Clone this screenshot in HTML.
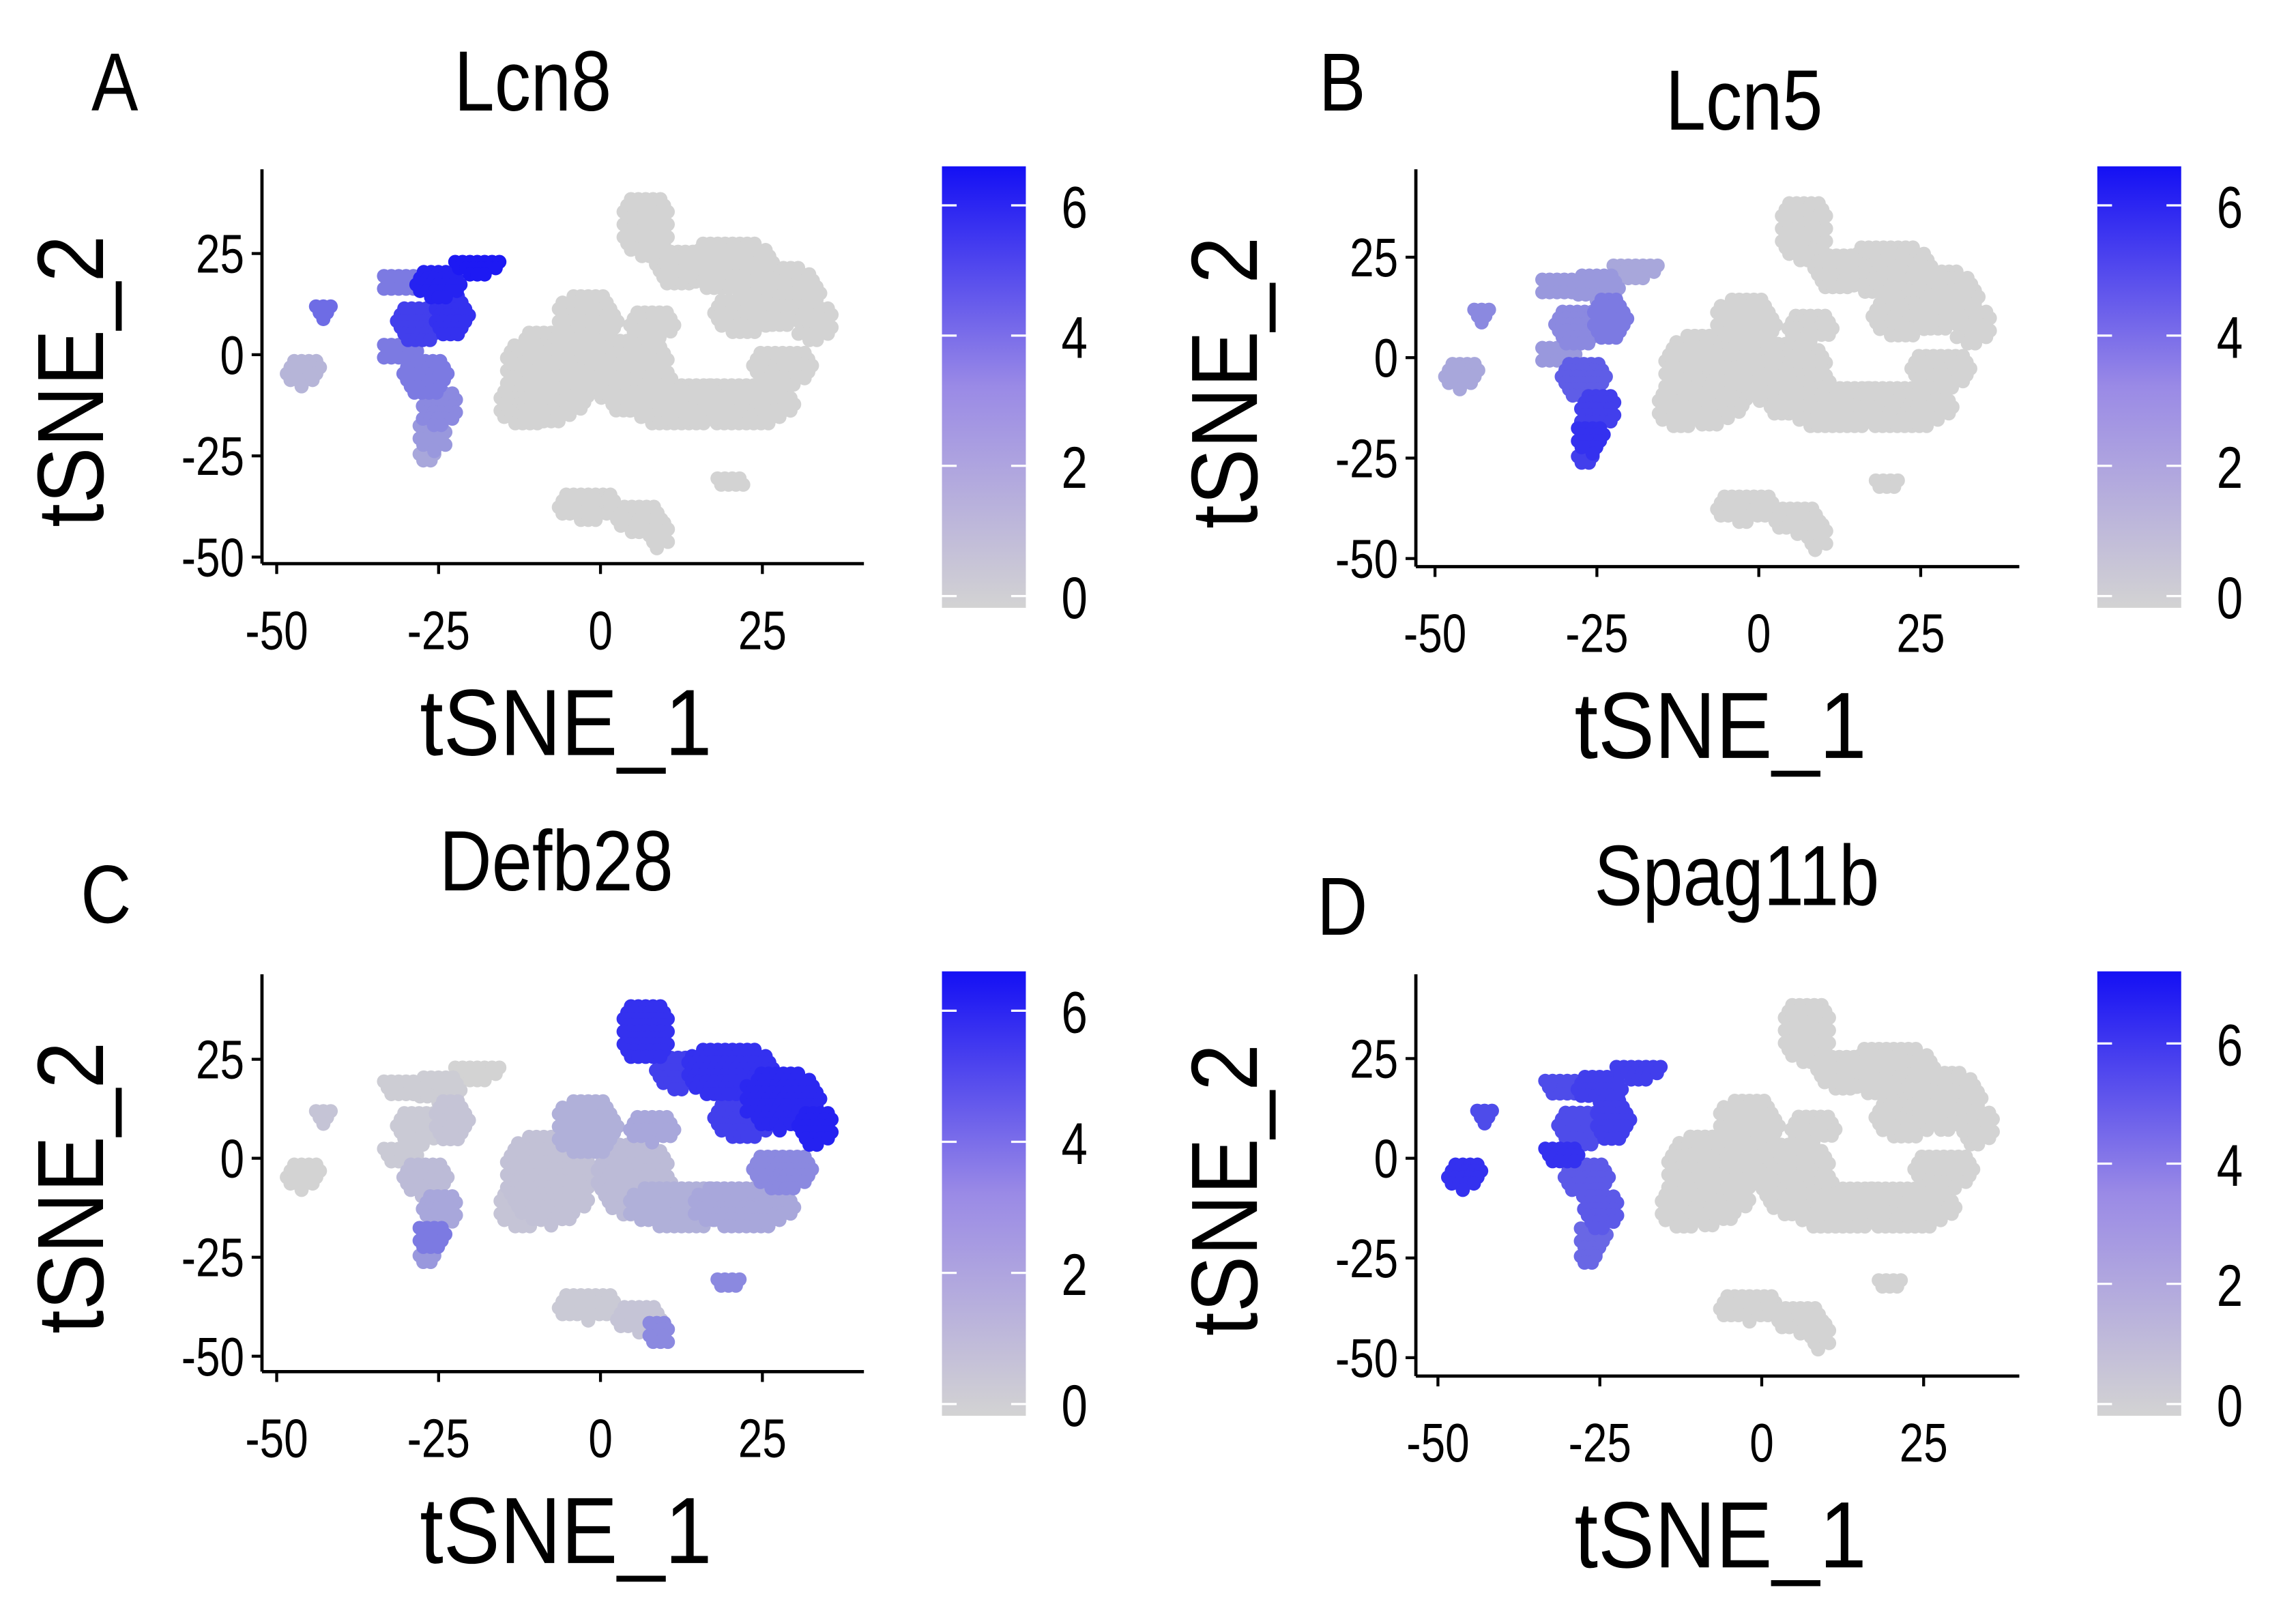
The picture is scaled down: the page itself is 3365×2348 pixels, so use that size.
<!DOCTYPE html>
<html><head><meta charset="utf-8">
<style>
html,body{margin:0;padding:0;background:#fff;}
svg{display:block;}
text{font-family:"Liberation Sans",sans-serif;fill:#000;}
</style></head>
<body>
<svg id="fig" xmlns="http://www.w3.org/2000/svg" width="3365" height="2348" viewBox="0 0 1560 1088.5">
<defs>
<linearGradient id="cbar" x1="0" y1="1" x2="0" y2="0">
<stop offset="0" stop-color="#d3d3d3"/><stop offset="0.5" stop-color="#9a8ae6"/><stop offset="1" stop-color="#1410f4"/>
</linearGradient>
</defs>
</svg>
<script>
// cluster ellipses in tSNE data units: centre x, centre y, radius x, radius y
const clusterCx = [-8,-2,5,12,22,28,8,-12, 7,12,20,28,33,22, -2,6,9,20, -31,-25,-19,-28,-23,-31,-27,-25,-26,-27, -46,-43];
const clusterCy = [-5,8,-5,-12,-12,-3,8,-12, 32,22,22,15,8,10, -37,-40,-44,-31, 18,18,22,8,10,1,-5,-13,-20,-25, -4,11];
const clusterRx = [7,5,6,8,8,5,4,4, 4,4,7,6,3,5, 5,4,2,2.5, 3,4,4,4,3,3,4,3,2.5,1.5, 3,1.5];
const clusterRy = [12,8,10,6,6,5,4,6, 8,5,7,8,5,5, 4,4,4,2, 3,4,2.5,5,6,3,5,5,4,2, 4,2.5];
// expression per cluster for each gene
const exprLcn8    = [0,0,0,0,0,0,0,0, 0,0,0,0,0,0, 0,0,0,0, 3,6,6.3,5,5.5,3,3,2.5,2,1.5, 1,3.5];
const exprLcn5    = [0,0,0,0,0,0,0,0, 0,0,0,0,0,0, 0,0,0,0, 2,2,1.5,2.5,3,2,4,5,5.5,5, 1.5,2.5];
const exprDefb28  = [0.6,1.2,0.8,1.2,1.5,2.5,1.5,0.5, 5.5,5,5.5,5.8,6,5, 0.3,0.5,2.5,2.5, 0.2,0.2,0,0.3,0.5,0.3,0.8,1.5,3,2, 0,0.5];
const exprSpag11b = [0,0,0,0,0,0,0,0, 0,0,0,0,0,0, 0,0,0,0, 5,5.5,5.5,5,5.5,6,4.5,4.5,4,4, 6,5];
const xTicks = [-50,-25,0,25];
const yTicks = [-50,-25,0,25];
const panels = [
 {id:'A',title:'Lcn8',expr:exprLcn8,x0:408,kx:4.4,y0:241,ky:2.75,ax:178,top:115,ay:383,right:587,cbx:640,cbTop:113,cbBot:413,cbLabels:[0,2,4,6],cbMax:6.6,lx:78,ly:55,tx:362,ty:55},
 {id:'B',title:'Lcn5',expr:exprLcn5,x0:1195,kx:4.4,y0:243,ky:2.73,ax:962,top:115,ay:385,right:1372,cbx:1425,cbTop:113,cbBot:413,cbLabels:[0,2,4,6],cbMax:6.6,lx:912,ly:55,tx:1185,ty:68},
 {id:'C',title:'Defb28',expr:exprDefb28,x0:408,kx:4.4,y0:787,ky:2.69,ax:178,top:662,ay:932,right:587,cbx:640,cbTop:660,cbBot:962,cbLabels:[0,2,4,6],cbMax:6.6,lx:72,ly:607,tx:378,ty:585},
 {id:'D',title:'Spag11b',expr:exprSpag11b,x0:1197,kx:4.4,y0:787,ky:2.71,ax:962,top:662,ay:935,right:1372,cbx:1425,cbTop:660,cbBot:962,cbLabels:[0,2,4,6],cbMax:7.2,lx:912,ly:615,tx:1180,ty:595}
];
const NS='http://www.w3.org/2000/svg';
const svg=document.getElementById('fig');
function mk(tag,attrs,parent){const e=document.createElementNS(NS,tag);for(const k in attrs)e.setAttribute(k,attrs[k]);(parent||svg).appendChild(e);return e;}
function txt(parent,x,y,size,anchor,sx,content,extra){
 const t=mk('text',Object.assign({x:0,y:0,'font-size':size,'text-anchor':anchor,transform:`translate(${x},${y}) scale(${sx},1)`},extra||{}),parent);
 t.textContent=content;return t;}
function colorFor(v,max){const t=Math.max(0,Math.min(1,v/max));
 const r=Math.round(211+(20-211)*t),g=Math.round(211+(16-211)*t),b=Math.round(211+(244-211)*t);return `rgb(${r},${g},${b})`;}
panels.forEach(p=>{
 const g=mk('g',{});
 
 
 const sx=v=>p.x0+v*p.kx, sy=v=>p.y0-v*p.ky;
 const L=txt(g,p.lx,p.ly+20,56,'middle',0.85,p.id);
 
 const T=txt(g,p.tx,p.ty+20,58,'middle',0.85,p.title);
 
 const pts=mk('g',{},g);
 
 const order=clusterCx.map((_,i)=>i).sort((a,b)=>p.expr[a]-p.expr[b]);
 order.forEach(i=>{
  const cx=sx(clusterCx[i]),cy=sy(clusterCy[i]),rx=clusterRx[i]*p.kx,ry=clusterRy[i]*p.ky;
  const col=colorFor(p.expr[i],p.cbMax);
  const step=5;
  for(let yy=-ry;yy<=ry;yy+=step*0.86){
   const row=Math.round((yy+ry)/(step*0.86));
   for(let xx=-rx+(row%2?step/2:0);xx<=rx;xx+=step){
    if((xx*xx)/(rx*rx)+(yy*yy)/(ry*ry)>1)continue;
    const c=mk('circle',{cx:cx+xx,cy:cy+yy,r:4.8,fill:col},pts);
    
    
   }
  }
 });
 const ya=mk('line',{x1:p.ax,y1:p.top,x2:p.ax,y2:p.ay,stroke:'#000','stroke-width':2.2},g);
 
 const xa=mk('line',{x1:p.ax,y1:p.ay,x2:p.right,y2:p.ay,stroke:'#000','stroke-width':2.2},g);
 
 xTicks.forEach(v=>{
  mk('line',{x1:sx(v),y1:p.ay,x2:sx(v),y2:p.ay+7,stroke:'#000','stroke-width':2},g);
  const t=txt(g,sx(v),p.ay+58,37,'middle',0.8,v);
  
 });
 yTicks.forEach(v=>{
  mk('line',{x1:p.ax-7,y1:sy(v),x2:p.ax,y2:sy(v),stroke:'#000','stroke-width':2},g);
  const t=txt(g,p.ax-12,sy(v)+13,37,'end',0.8,v);
  
 });
 const xt=txt(g,(p.ax+p.right)/2+2,p.ay+130,64,'middle',0.9,'tSNE_1');
 
 const yc=(p.top+p.ay)/2+10;
 const yt=mk('text',{x:0,y:0,'font-size':64,'text-anchor':'middle',transform:`translate(${p.ax-108},${yc}) rotate(-90) scale(0.9,1)`},g);yt.textContent='tSNE_2';
 
 const cb=mk('rect',{x:p.cbx,y:p.cbTop,width:57,height:p.cbBot-p.cbTop,fill:'url(#cbar)'},g);
 
 const pad=8, cy=v=>p.cbBot-pad-(v/p.cbMax)*(p.cbBot-p.cbTop-pad);
 p.cbLabels.forEach(v=>{
  mk('line',{x1:p.cbx,y1:cy(v),x2:p.cbx+10,y2:cy(v),stroke:'#fff','stroke-width':1.5},g);
  mk('line',{x1:p.cbx+47,y1:cy(v),x2:p.cbx+57,y2:cy(v),stroke:'#fff','stroke-width':1.5},g);
  const t=txt(g,p.cbx+90,cy(v)+15,40,'middle',0.8,v);
  
 });
});
</script>
</body></html>
